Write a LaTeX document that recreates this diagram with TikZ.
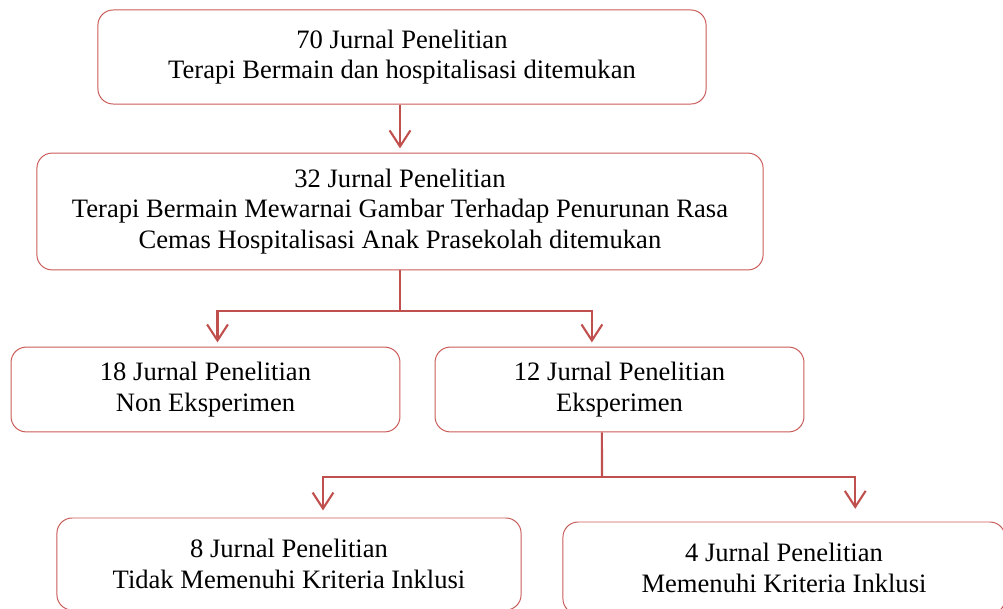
\documentclass[tikz,border=0pt]{standalone}
\usepackage{fontspec}
\setmainfont{Liberation Serif}
\usetikzlibrary{positioning}
\usetikzlibrary{calc}
\usetikzlibrary{arrows.meta}
\definecolor{redline}{RGB}{192,80,77}
\definecolor{redborder}{RGB}{200,90,88}

\begin{document}
\begin{tikzpicture}[
        x=0.025cm, y=-0.025cm,
        box/.style={draw=redborder, line width=0.7pt, rounded corners=0.38cm,
                    align=center, inner sep=0pt,
                    font=\fontsize{18.9}{21.6}\selectfont},
        arrow/.style={-{Straight Barb[length=0.4cm, width=0.52cm, line width=1.5pt]},
                      line width=1.5pt, draw=redline},
        link/.style={line width=1.5pt, draw=redline}
    ]
        \useasboundingbox (0,0) rectangle (1003,609);
        \clip (0,0) rectangle (1003,609);

        \node[box, minimum width=15.2cm, minimum height=2.35cm] (found) at (402,57)
            {70 Jurnal Penelitian\\Terapi Bermain dan hospitalisasi ditemukan};
        \node[box, minimum width=18.15cm, minimum height=2.92cm] (match) at (400,211.5)
            {32 Jurnal Penelitian\\Terapi Bermain Mewarnai Gambar Terhadap Penurunan Rasa\\Cemas Hospitalisasi Anak Prasekolah ditemukan};
        \node[box, minimum width=9.72cm, minimum height=2.12cm] (nonexp) at (205.5,389.5)
            {18 Jurnal Penelitian\\Non Eksperimen};
        \node[box, minimum width=9.22cm, minimum height=2.12cm] (exp) at (619.5,389.5)
            {12 Jurnal Penelitian\\Eksperimen};
        \node[box, minimum width=11.6cm, minimum height=2.3cm] (excl) at (289,564)
            {8 Jurnal Penelitian\\Tidak Memenuhi Kriteria Inklusi};
        \node[box, minimum width=11.05cm, minimum height=2.3cm] (incl) at (784,568)
            {4 Jurnal Penelitian\\Memenuhi Kriteria Inklusi};

        \coordinate (split1) at (400,311);
        \coordinate (split2) at (602,477);

        \draw[arrow, shorten >=3] ([xshift=-0.05cm]found.south) -- ([xshift=-0.05cm]found.south |- match.north);
        \draw[link] (match.south) -- (split1);
        \draw[arrow, shorten >=3] (split1) -| ([xshift=0.3cm]nonexp.north);
        \draw[arrow, shorten >=3] (split1) -| ([xshift=-0.69cm]exp.north);
        \draw[link] ([xshift=-0.44cm]exp.south) -- (split2);
        \draw[arrow, shorten >=5] (split2) -| ([xshift=0.85cm]excl.north);
        \draw[arrow, shorten >=9] (split2) -| ([xshift=1.78cm]incl.north);
    \end{tikzpicture}
\end{document}
